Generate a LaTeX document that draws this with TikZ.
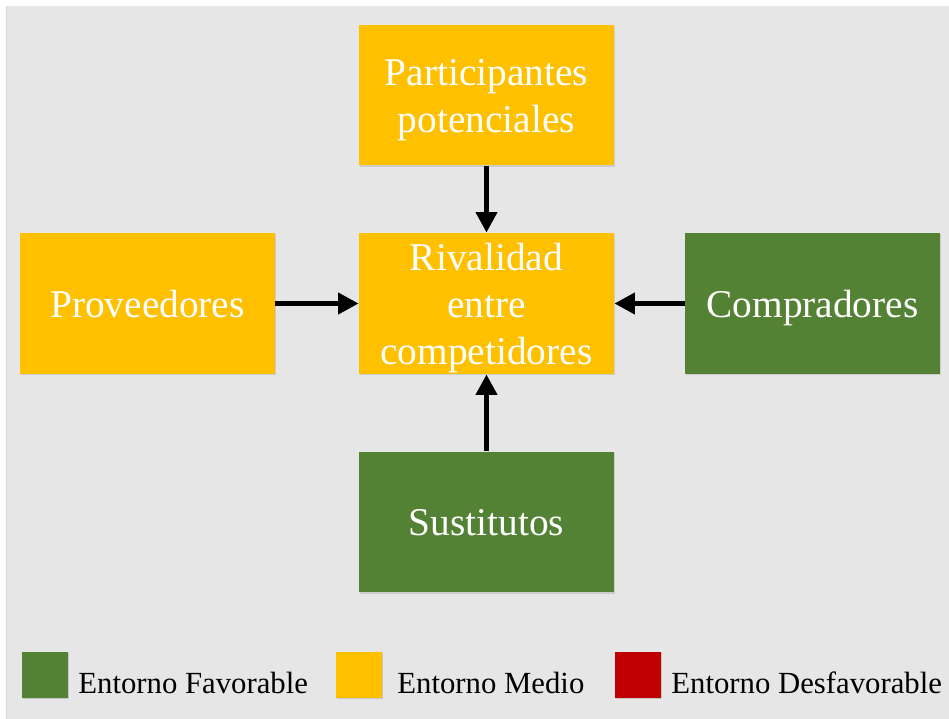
\documentclass[tikz,border=0pt]{standalone}
\usepackage{fontspec}
\setmainfont{Liberation Serif}
\usetikzlibrary{arrows.meta,shadows}

\definecolor{fondo}{HTML}{E7E6E6}
\definecolor{medio}{HTML}{FFC000}
\definecolor{favorable}{HTML}{548235}
\definecolor{desfavorable}{HTML}{C00000}

% fixed line height so every box sets its text the same way
\newcommand{\puntal}{\rule[-5pt]{0pt}{25.9pt}}

\tikzset{
  fuerza/.style={minimum width=5.1cm, minimum height=2.82cm, inner sep=0pt,
    text=white, align=center, font=\fontsize{22.4}{27}\selectfont,
    drop shadow={opacity=0.25, shadow xshift=0.6pt, shadow yshift=-0.8pt}},
  muestra/.style={minimum size=0.92cm, inner sep=0pt,
    drop shadow={opacity=0.3, shadow xshift=0.6pt, shadow yshift=-0.8pt}},
  etiqueta/.style={anchor=west, inner sep=0pt, font=\fontsize{17.5}{21}\selectfont},
  flecha/.style={line width=3.4pt, -{Triangle[length=0.41cm, width=0.41cm]}}
}

\begin{document}
\begin{tikzpicture}[x=0.02cm, y=-0.02cm]
          \useasboundingbox (0,0) rectangle (949,719);
          % Background
          \fill[black!15] (5.5,6) rectangle (8,719);
          \fill[fondo] (7,6) rectangle (949,719);

          % Forces
          \node[fuerza, fill=medio] (entrantes) at (486.5,95) {\puntal Participantes\\potenciales\puntal};
          \node[fuerza, fill=medio] (rivalidad) at (486.5,303.5) {\puntal Rivalidad\\entre\\competidores\puntal};
          \node[fuerza, fill=medio] (proveedores) at (147.5,303.5) {\puntal Proveedores};
          \node[fuerza, fill=favorable] (compradores) at (812.5,303.5) {\puntal Compradores};
          \node[fuerza, fill=favorable] (sustitutos) at (486.5,522) {\puntal Sustitutos};

          % Arrows
          \draw[flecha] (entrantes) -- (rivalidad);
          \draw[flecha] (proveedores) -- (rivalidad);
          \draw[flecha] (compradores) -- (rivalidad);
          \draw[flecha] (sustitutos) -- (rivalidad);

          % Legend
          \node[muestra, fill=favorable] (favorable) at (45,675) {};
          \node[etiqueta] (tfavorable) at (78,683) {Entorno Favorable};
          \node[muestra, fill=medio] (medio) at (359,675) {};
          \node[etiqueta] (tmedio) at (397,683) {Entorno Medio};
          \node[muestra, fill=desfavorable] (desfavorable) at (637.5,675) {};
          \node[etiqueta] (tdesfavorable) at (671,683) {Entorno Desfavorable};
        \end{tikzpicture}
\end{document}
